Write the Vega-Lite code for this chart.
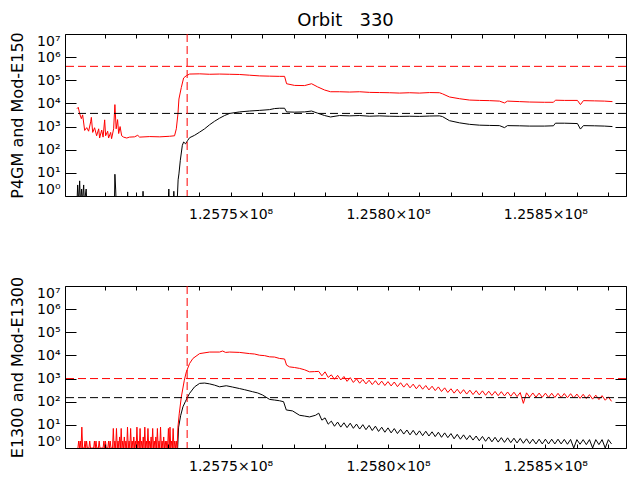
{
"$schema": "https://vega.github.io/schema/vega-lite/v6.json",
"background": "white",
"padding": {"left": 9, "top": 11, "right": 5, "bottom": 2},
"bounds": "flush",
"spacing": 90,
"config": {
  "font": "DejaVu Sans",
  "view": {"stroke": "black", "strokeWidth": 1},
  "axis": {"grid": false, "domainColor": "black", "tickColor": "black", "labelColor": "black", "titleColor": "black", "domainWidth": 1, "tickWidth": 1, "labelFont": "DejaVu Sans", "titleFont": "DejaVu Sans", "titleFontWeight": "normal", "minExtent": 0}
},
"datasets": {
  "topObs": [
{"x":125701200,"y":0.5},{"x":125701420,"y":3},{"x":125701740,"y":0.5},{"x":125702060,"y":4.5},{"x":125702280,"y":0.5},{"x":125702690,"y":2},{"x":125702920,"y":0.5},{"x":125703330,"y":3},{"x":125703550,"y":0.5},{"x":125704120,"y":2},{"x":125704340,"y":0.5},{"x":125713110,"y":0.5},{"x":125713250,"y":8.7},{"x":125713490,"y":2},{"x":125713680,"y":0.5},{"x":125717170,"y":0.5},{"x":125717300,"y":1.5},{"x":125717420,"y":0.5},{"x":125722060,"y":0.5},{"x":125722190,"y":1.6},{"x":125722310,"y":0.5},{"x":125730250,"y":0.5},{"x":125730380,"y":2},{"x":125730500,"y":0.5},{"x":125731840,"y":0.5},{"x":125731970,"y":1.6},{"x":125732090,"y":0.5},{"x":125733010,"y":0.5},{"x":125733330,"y":5},{"x":125733590,"y":9},{"x":125734030,"y":35},{"x":125734670,"y":155},{"x":125735080,"y":215},{"x":125735710,"y":180},{"x":125736350,"y":250},{"x":125736980,"y":330},{"x":125738570,"y":420},{"x":125740160,"y":575},{"x":125741750,"y":800},{"x":125743330,"y":1200},{"x":125744920,"y":1700},{"x":125746500,"y":2300},{"x":125748100,"y":3000},{"x":125749700,"y":3700},{"x":125752860,"y":4300},{"x":125756030,"y":4700},{"x":125759200,"y":5000},{"x":125762380,"y":5400},{"x":125763970,"y":6000},{"x":125765560,"y":6200},{"x":125767150,"y":6200},{"x":125767780,"y":4300},{"x":125770320,"y":4200},{"x":125773500,"y":4300},{"x":125775720,"y":4700},{"x":125777620,"y":3800},{"x":125779850,"y":3000},{"x":125781750,"y":2600},{"x":125784600,"y":3000},{"x":125787780,"y":2900},{"x":125790960,"y":3000},{"x":125794130,"y":2800},{"x":125797300,"y":2900},{"x":125800480,"y":2800},{"x":125803660,"y":2750},{"x":125806830,"y":2800},{"x":125810000,"y":2750},{"x":125813180,"y":2850},{"x":125816360,"y":2900},{"x":125817310,"y":2700},{"x":125819530,"y":1800},{"x":125822710,"y":1450},{"x":125825880,"y":1250},{"x":125829060,"y":1150},{"x":125832230,"y":1120},{"x":125835410,"y":1100},{"x":125837000,"y":900},{"x":125837950,"y":1100},{"x":125841760,"y":1080},{"x":125844930,"y":1050},{"x":125849700,"y":1050},{"x":125852550,"y":1080},{"x":125853190,"y":1400},{"x":125856050,"y":1400},{"x":125860170,"y":1350},{"x":125861130,"y":780},{"x":125862080,"y":1100},{"x":125865570,"y":1080},{"x":125868750,"y":1050},{"x":125871290,"y":1000}
  ],
  "topMod": [
{"x":125701200,"y":5900},{"x":125701600,"y":6800},{"x":125702100,"y":3500},{"x":125702600,"y":2200},{"x":125703000,"y":3200},{"x":125703650,"y":680},{"x":125704300,"y":900},{"x":125704900,"y":630},{"x":125705550,"y":1600},{"x":125705770,"y":2500},{"x":125706200,"y":560},{"x":125706800,"y":890},{"x":125707450,"y":400},{"x":125708100,"y":800},{"x":125708400,"y":320},{"x":125709050,"y":710},{"x":125709500,"y":350},{"x":125710000,"y":1950},{"x":125710300,"y":400},{"x":125710950,"y":630},{"x":125711250,"y":320},{"x":125711900,"y":560},{"x":125712200,"y":300},{"x":125712850,"y":800},{"x":125713250,"y":8900},{"x":125713650,"y":800},{"x":125714100,"y":2000},{"x":125714450,"y":500},{"x":125714900,"y":1000},{"x":125715400,"y":400},{"x":125716000,"y":350},{"x":125717000,"y":320},{"x":125717900,"y":350},{"x":125719500,"y":360},{"x":125720500,"y":420},{"x":125721100,"y":350},{"x":125724300,"y":370},{"x":125727500,"y":360},{"x":125730600,"y":380},{"x":125732200,"y":400},{"x":125732760,"y":800},{"x":125733270,"y":3500},{"x":125733590,"y":15500},{"x":125734350,"y":49000},{"x":125735080,"y":126000},{"x":125735940,"y":158000},{"x":125736980,"y":186000},{"x":125740160,"y":190000},{"x":125743330,"y":182000},{"x":125746500,"y":186000},{"x":125749700,"y":182000},{"x":125752860,"y":178000},{"x":125756030,"y":166000},{"x":125759200,"y":155000},{"x":125762380,"y":151000},{"x":125765560,"y":148000},{"x":125767150,"y":148000},{"x":125767780,"y":71000},{"x":125770320,"y":60000},{"x":125773500,"y":59000},{"x":125775720,"y":71000},{"x":125777620,"y":52000},{"x":125779850,"y":38000},{"x":125781750,"y":32000},{"x":125784600,"y":32000},{"x":125787780,"y":31000},{"x":125790960,"y":32000},{"x":125794130,"y":30000},{"x":125797300,"y":29500},{"x":125800480,"y":29000},{"x":125803660,"y":28000},{"x":125806830,"y":29000},{"x":125810000,"y":28000},{"x":125813180,"y":29500},{"x":125816360,"y":29000},{"x":125817310,"y":26000},{"x":125819530,"y":19000},{"x":125822710,"y":16000},{"x":125825880,"y":14000},{"x":125829060,"y":13500},{"x":125832230,"y":13200},{"x":125835410,"y":12600},{"x":125837000,"y":10500},{"x":125837950,"y":12600},{"x":125841760,"y":12000},{"x":125844930,"y":11500},{"x":125849700,"y":11200},{"x":125852550,"y":11200},{"x":125853190,"y":13800},{"x":125856050,"y":13500},{"x":125860170,"y":13500},{"x":125861130,"y":8900},{"x":125862080,"y":13200},{"x":125865570,"y":12900},{"x":125868750,"y":12600},{"x":125871290,"y":12000}
  ],
  "botObs": [
{"x":125733080,"y":0.5},{"x":125733490,"y":8},{"x":125734130,"y":25},{"x":125734860,"y":60},{"x":125735620,"y":100},{"x":125736350,"y":160},{"x":125736980,"y":230},{"x":125738570,"y":440},{"x":125740160,"y":620},{"x":125741750,"y":640},{"x":125743330,"y":590},{"x":125744920,"y":520},{"x":125746500,"y":440},{"x":125748630,"y":490},{"x":125750640,"y":430},{"x":125752860,"y":370},{"x":125754450,"y":330},{"x":125756990,"y":270},{"x":125758570,"y":240},{"x":125760160,"y":195},{"x":125762380,"y":126},{"x":125763970,"y":118},{"x":125765560,"y":110},{"x":125766830,"y":100},{"x":125767690,"y":44},{"x":125769690,"y":40},{"x":125771900,"y":26},{"x":125773500,"y":24},{"x":125775080,"y":22},{"x":125777000,"y":26},
{"x":125778000,"y":32},{"x":125779000,"y":16},{"x":125780000,"y":20},{"x":125781000,"y":10.7},{"x":125782000,"y":14.5},{"x":125783000,"y":8.7},{"x":125784000,"y":13.2},{"x":125785000,"y":8},{"x":125786000,"y":12.3},{"x":125787000,"y":7.6},{"x":125788000,"y":11.8},{"x":125789000,"y":7.1},{"x":125790000,"y":10.8},{"x":125791000,"y":6.6},{"x":125792000,"y":10.2},{"x":125793000,"y":6.2},{"x":125794000,"y":9.5},{"x":125795000,"y":5.7},{"x":125796000,"y":8.8},{"x":125797000,"y":5.2},{"x":125798000,"y":7.9},{"x":125799000,"y":4.8},{"x":125800000,"y":7.4},{"x":125801000,"y":4.5},{"x":125802000,"y":6.9},{"x":125803000,"y":4.2},{"x":125804000,"y":6.4},{"x":125805000,"y":4},{"x":125806000,"y":6},{"x":125807000,"y":3.7},{"x":125808000,"y":5.8},{"x":125809000,"y":3.6},{"x":125810000,"y":5.5},{"x":125811000,"y":3.4},{"x":125812000,"y":5.3},{"x":125813000,"y":3.3},{"x":125814000,"y":5},{"x":125815000,"y":3.1},{"x":125816000,"y":4.8},{"x":125817000,"y":2.9},{"x":125818000,"y":4.5},{"x":125819000,"y":2.8},{"x":125820000,"y":4.2},{"x":125821000,"y":2.5},{"x":125822000,"y":3.9},{"x":125823000,"y":2.4},{"x":125824000,"y":3.7},{"x":125825000,"y":2.3},{"x":125826000,"y":3.5},{"x":125827000,"y":2.2},{"x":125828000,"y":3.3},{"x":125829000,"y":2.05},{"x":125830000,"y":3.15},{"x":125831000,"y":1.95},{"x":125832000,"y":3},{"x":125833000,"y":1.85},{"x":125834000,"y":2.9},{"x":125835000,"y":1.8},{"x":125836000,"y":2.8},{"x":125837000,"y":1.75},{"x":125838000,"y":2.75},{"x":125839000,"y":1.7},{"x":125840000,"y":2.65},{"x":125841000,"y":1.65},{"x":125842000,"y":2.6},{"x":125843000,"y":1.6},{"x":125844000,"y":2.5},{"x":125845000,"y":1.55},{"x":125846000,"y":2.4},{"x":125847000,"y":1.5},{"x":125848000,"y":2.4},{"x":125849000,"y":1.5},{"x":125850000,"y":2.4},{"x":125851000,"y":1.5},{"x":125852000,"y":2.4},{"x":125853000,"y":1.5},{"x":125854000,"y":2.4},{"x":125855000,"y":1.5},{"x":125856000,"y":2.35},{"x":125857000,"y":1.45},{"x":125858000,"y":2.35},{"x":125859000,"y":1},{"x":125860000,"y":2.3},{"x":125861000,"y":1.45},{"x":125862000,"y":2.3},{"x":125863000,"y":1.4},{"x":125864000,"y":2.3},{"x":125865000,"y":1},{"x":125866000,"y":2.3},{"x":125867000,"y":1.4},{"x":125868000,"y":2.3},{"x":125869000,"y":1},{"x":125870000,"y":2.3},{"x":125871000,"y":1.5}
  ],
  "botMod": [
{"x":125701500,"y":1},{"x":125701750,"y":2},{"x":125702000,"y":1},{"x":125702250,"y":2},{"x":125702500,"y":1},{"x":125702750,"y":8},{"x":125703000,"y":1},{"x":125703250,"y":1},{"x":125703500,"y":1},{"x":125703750,"y":2},{"x":125704000,"y":1},{"x":125704250,"y":2},{"x":125704500,"y":1},{"x":125704750,"y":1},{"x":125705000,"y":1},{"x":125705250,"y":2},{"x":125705500,"y":1},{"x":125705750,"y":1},{"x":125706000,"y":1},{"x":125706250,"y":1},{"x":125706500,"y":1},{"x":125706750,"y":2},{"x":125707000,"y":1},{"x":125707250,"y":2},{"x":125707500,"y":1},{"x":125707750,"y":1},{"x":125708000,"y":1},{"x":125708250,"y":2},{"x":125708500,"y":1},{"x":125708750,"y":1},{"x":125709000,"y":1},{"x":125709250,"y":1},{"x":125709500,"y":1},{"x":125709750,"y":2},{"x":125710000,"y":1},{"x":125710250,"y":2},{"x":125710500,"y":1},{"x":125710750,"y":1},{"x":125711000,"y":1},{"x":125711250,"y":2},{"x":125711500,"y":1},{"x":125711750,"y":2},{"x":125712000,"y":1},{"x":125712250,"y":1},{"x":125712500,"y":1},{"x":125712750,"y":7},{"x":125713000,"y":1},{"x":125713250,"y":2},{"x":125713500,"y":1},{"x":125713750,"y":7},{"x":125714000,"y":1},{"x":125714250,"y":2},{"x":125714500,"y":1},{"x":125714750,"y":3},{"x":125715000,"y":1},{"x":125715250,"y":7},{"x":125715500,"y":1},{"x":125715750,"y":2},{"x":125716000,"y":1},{"x":125716250,"y":3},{"x":125716500,"y":1},{"x":125716750,"y":2},{"x":125717000,"y":1},{"x":125717250,"y":8},{"x":125717500,"y":1},{"x":125717750,"y":2},{"x":125718000,"y":1},{"x":125718250,"y":7},{"x":125718500,"y":1},{"x":125718750,"y":2},{"x":125719000,"y":1},{"x":125719250,"y":3},{"x":125719500,"y":1},{"x":125719750,"y":2},{"x":125720000,"y":1},{"x":125720250,"y":8},{"x":125720500,"y":1},{"x":125720750,"y":2},{"x":125721000,"y":1},{"x":125721250,"y":7},{"x":125721500,"y":1},{"x":125721750,"y":2},{"x":125722000,"y":1},{"x":125722250,"y":3},{"x":125722500,"y":1},{"x":125722750,"y":8},{"x":125723000,"y":1},{"x":125723250,"y":2},{"x":125723500,"y":1},{"x":125723750,"y":7},{"x":125724000,"y":1},{"x":125724250,"y":2},{"x":125724500,"y":1},{"x":125724750,"y":3},{"x":125725000,"y":1},{"x":125725250,"y":7},{"x":125725500,"y":1},{"x":125725750,"y":2},{"x":125726000,"y":1},{"x":125726250,"y":3},{"x":125726500,"y":1},{"x":125726750,"y":7},{"x":125727000,"y":1},{"x":125727250,"y":2},{"x":125727500,"y":1},{"x":125727750,"y":8},{"x":125728000,"y":1},{"x":125728250,"y":2},{"x":125728500,"y":1},{"x":125728750,"y":3},{"x":125729000,"y":1},{"x":125729250,"y":2},{"x":125729500,"y":1},{"x":125729750,"y":2},{"x":125730000,"y":1},{"x":125730250,"y":7},{"x":125730500,"y":1},{"x":125730750,"y":8},{"x":125731000,"y":1},{"x":125731250,"y":2},{"x":125731500,"y":1},{"x":125731750,"y":7},{"x":125732000,"y":1},{"x":125732250,"y":2},{"x":125732500,"y":1},{"x":125732750,"y":2},{"x":125733000,"y":1},
{"x":125733270,"y":8},{"x":125733710,"y":32},{"x":125734350,"y":160},{"x":125735300,"y":850},{"x":125735940,"y":1950},{"x":125736980,"y":4500},{"x":125738030,"y":7400},{"x":125740160,"y":12000},{"x":125743330,"y":14000},{"x":125746500,"y":14000},{"x":125747460,"y":15500},{"x":125748410,"y":13500},{"x":125749700,"y":14000},{"x":125752860,"y":13500},{"x":125756030,"y":12000},{"x":125757620,"y":11500},{"x":125759200,"y":10200},{"x":125760800,"y":9800},{"x":125762380,"y":8700},{"x":125763970,"y":8500},{"x":125765560,"y":7400},{"x":125767150,"y":7000},{"x":125767780,"y":3800},{"x":125768730,"y":3200},{"x":125770320,"y":3000},{"x":125771900,"y":2750},{"x":125773500,"y":2400},{"x":125775080,"y":1950},{"x":125776670,"y":2000},
{"x":125778000,"y":2040},{"x":125779000,"y":1320},{"x":125780000,"y":1950},{"x":125781000,"y":1120},{"x":125782000,"y":1450},{"x":125783000,"y":930},{"x":125784000,"y":1380},{"x":125785000,"y":870},{"x":125786000,"y":1230},{"x":125787000,"y":760},{"x":125788000,"y":1100},{"x":125789000,"y":680},{"x":125790000,"y":975},{"x":125791000,"y":630},{"x":125792000,"y":910},{"x":125793000,"y":590},{"x":125794000,"y":850},{"x":125795000,"y":550},{"x":125796000,"y":810},{"x":125797000,"y":525},{"x":125798000,"y":775},{"x":125799000,"y":500},{"x":125800000,"y":740},{"x":125801000,"y":480},{"x":125802000,"y":710},{"x":125803000,"y":447},{"x":125804000,"y":660},{"x":125805000,"y":427},{"x":125806000,"y":615},{"x":125807000,"y":398},{"x":125808000,"y":575},{"x":125809000,"y":363},{"x":125810000,"y":537},{"x":125811000,"y":347},{"x":125812000,"y":500},{"x":125813000,"y":324},{"x":125814000,"y":467},{"x":125815000,"y":302},{"x":125816000,"y":437},{"x":125817000,"y":276},{"x":125818000,"y":398},{"x":125819000,"y":251},{"x":125820000,"y":363},{"x":125821000,"y":234},{"x":125822000,"y":347},{"x":125823000,"y":224},{"x":125824000,"y":331},{"x":125825000,"y":214},{"x":125826000,"y":316},{"x":125827000,"y":204},{"x":125828000,"y":302},{"x":125829000,"y":197},{"x":125830000,"y":295},{"x":125831000,"y":190},{"x":125832000,"y":285},{"x":125833000,"y":186},{"x":125834000,"y":278},{"x":125835000,"y":182},{"x":125836000,"y":272},{"x":125837000,"y":178},{"x":125838000,"y":263},{"x":125839000,"y":172},{"x":125840000,"y":257},{"x":125841000,"y":166},{"x":125842000,"y":248},{"x":125843000,"y":85},{"x":125844000,"y":242},{"x":125845000,"y":158},{"x":125846000,"y":239},{"x":125847000,"y":157},{"x":125848000,"y":236},{"x":125849000,"y":155},{"x":125850000,"y":234},{"x":125851000,"y":154},{"x":125852000,"y":232},{"x":125853000,"y":152},{"x":125854000,"y":230},{"x":125855000,"y":151},{"x":125856000,"y":226},{"x":125857000,"y":148},{"x":125858000,"y":222},{"x":125859000,"y":145},{"x":125860000,"y":214},{"x":125861000,"y":140},{"x":125862000,"y":209},{"x":125863000,"y":136},{"x":125864000,"y":202},{"x":125865000,"y":129},{"x":125866000,"y":192},{"x":125867000,"y":124},{"x":125868000,"y":183},{"x":125869000,"y":116},{"x":125870000,"y":162},{"x":125871000,"y":104}
  ],
  "topRefs": [{"series":"obs","level":3700},{"series":"mod","level":400000}],
  "botRefs": [{"series":"obs","level":150},{"series":"mod","level":1000}],
  "marker": [{"x":125736200}]
},
"vconcat": [
  {
    "width": 561, "height": 162,
    "title": {"text": "Orbit\u00a0\u00a0\u00a0330", "fontSize": 18, "fontWeight": "normal", "font": "DejaVu Sans", "color": "black", "anchor": "middle", "frame": "group", "baseline": "alphabetic", "offset": -12},
    "layer": [
      {
        "data": {"name": "topObs"},
        "mark": {"type": "line", "color": "#000000", "strokeWidth": 1, "clip": true},
        "encoding": {
          "x": {"field": "x", "type": "quantitative", "scale": {"domain": [125697400, 125875600], "nice": false, "zero": false},
                "axis": {"orient": "bottom", "zindex": 2, "ticks": true, "title": null, "domain": false, "offset": -4, "values": [125710000,125720000,125730000,125740000,125750000,125760000,125770000,125780000,125790000,125800000,125810000,125820000,125830000,125840000,125850000,125860000,125870000], "labelExpr": "datum.value % 50000 === 0 ? format(datum.value / 100000000, '.4f') + '×10⁸' : ''", "tickSize": 4, "labelPadding": 11, "labelFontSize": 14, "labelFlush": false, "labelOverlap": false}},
          "y": {"field": "y", "type": "quantitative", "scale": {"type": "log", "domain": [1, 10000000], "nice": false},
                "axis": {"orient": "left", "zindex": 2, "ticks": true, "title": "P4GM and Mod-E150", "titleFontSize": 16, "titlePadding": 11, "domain": false, "offset": -11, "values": [1,10,100,1000,10000,100000,1000000,10000000], "labelExpr": "'10' + ['⁰','¹','²','³','⁴','⁵','⁶','⁷'][round(log(datum.value) / LN10)]", "tickSize": 11, "labelPadding": 5, "labelFontSize": 14, "labelFlush": true, "labelOverlap": false}}
        }
      },
      {
        "data": {"name": "topMod"},
        "mark": {"type": "line", "color": "#ff0000", "strokeWidth": 1, "clip": true},
        "encoding": {
          "x": {"field": "x", "type": "quantitative", "axis": null},
          "y": {"field": "y", "type": "quantitative", "axis": null}
        }
      },
      {
        "data": {"name": "topRefs"},
        "mark": {"type": "rule", "strokeWidth": 1, "strokeDash": [8, 4]},
        "encoding": {
          "y": {"field": "level", "type": "quantitative", "axis": {"orient": "right", "zindex": 2, "ticks": true, "title": null, "labels": false, "domain": false, "offset": -11, "values": [1,10,100,1000,10000,100000,1000000,10000000], "tickSize": 11}},
          "color": {"field": "series", "type": "nominal", "scale": {"domain": ["obs", "mod"], "range": ["#000000", "#ff0000"]}, "legend": null}
        }
      },
      {
        "data": {"name": "marker"},
        "mark": {"type": "rule", "color": "#ff0000", "strokeWidth": 1, "strokeDash": [8, 4]},
        "encoding": {
          "x": {"field": "x", "type": "quantitative", "axis": {"orient": "top", "zindex": 2, "ticks": true, "title": null, "labels": false, "domain": false, "offset": -4, "values": [125710000,125720000,125730000,125740000,125750000,125760000,125770000,125780000,125790000,125800000,125810000,125820000,125830000,125840000,125850000,125860000,125870000], "tickSize": 4}}
        }
      }
    ],
    "resolve": {"axis": {"x": "independent", "y": "independent"}}
  },
  {
    "width": 561, "height": 162,
    "layer": [
      {
        "data": {"name": "botObs"},
        "mark": {"type": "line", "color": "#000000", "strokeWidth": 1, "clip": true},
        "encoding": {
          "x": {"field": "x", "type": "quantitative", "scale": {"domain": [125697400, 125875600], "nice": false, "zero": false},
                "axis": {"orient": "bottom", "zindex": 2, "ticks": true, "title": null, "domain": false, "offset": -4, "values": [125710000,125720000,125730000,125740000,125750000,125760000,125770000,125780000,125790000,125800000,125810000,125820000,125830000,125840000,125850000,125860000,125870000], "labelExpr": "datum.value % 50000 === 0 ? format(datum.value / 100000000, '.4f') + '×10⁸' : ''", "tickSize": 4, "labelPadding": 11, "labelFontSize": 14, "labelFlush": false, "labelOverlap": false}},
          "y": {"field": "y", "type": "quantitative", "scale": {"type": "log", "domain": [1, 10000000], "nice": false},
                "axis": {"orient": "left", "zindex": 2, "ticks": true, "title": "E1300 and Mod-E1300", "titleFontSize": 16, "titlePadding": 11, "domain": false, "offset": -11, "values": [1,10,100,1000,10000,100000,1000000,10000000], "labelExpr": "'10' + ['⁰','¹','²','³','⁴','⁵','⁶','⁷'][round(log(datum.value) / LN10)]", "tickSize": 11, "labelPadding": 5, "labelFontSize": 14, "labelFlush": true, "labelOverlap": false}}
        }
      },
      {
        "data": {"name": "botMod"},
        "mark": {"type": "line", "color": "#ff0000", "strokeWidth": 1, "clip": true},
        "encoding": {
          "x": {"field": "x", "type": "quantitative", "axis": null},
          "y": {"field": "y", "type": "quantitative", "axis": null}
        }
      },
      {
        "data": {"name": "botRefs"},
        "mark": {"type": "rule", "strokeWidth": 1, "strokeDash": [8, 4]},
        "encoding": {
          "y": {"field": "level", "type": "quantitative", "axis": {"orient": "right", "zindex": 2, "ticks": true, "title": null, "labels": false, "domain": false, "offset": -11, "values": [1,10,100,1000,10000,100000,1000000,10000000], "tickSize": 11}},
          "color": {"field": "series", "type": "nominal", "scale": {"domain": ["obs", "mod"], "range": ["#000000", "#ff0000"]}, "legend": null}
        }
      },
      {
        "data": {"name": "marker"},
        "mark": {"type": "rule", "color": "#ff0000", "strokeWidth": 1, "strokeDash": [8, 4]},
        "encoding": {
          "x": {"field": "x", "type": "quantitative", "axis": {"orient": "top", "zindex": 2, "ticks": true, "title": null, "labels": false, "domain": false, "offset": -4, "values": [125710000,125720000,125730000,125740000,125750000,125760000,125770000,125780000,125790000,125800000,125810000,125820000,125830000,125840000,125850000,125860000,125870000], "tickSize": 4}}
        }
      }
    ],
    "resolve": {"axis": {"x": "independent", "y": "independent"}}
  }
]
}
